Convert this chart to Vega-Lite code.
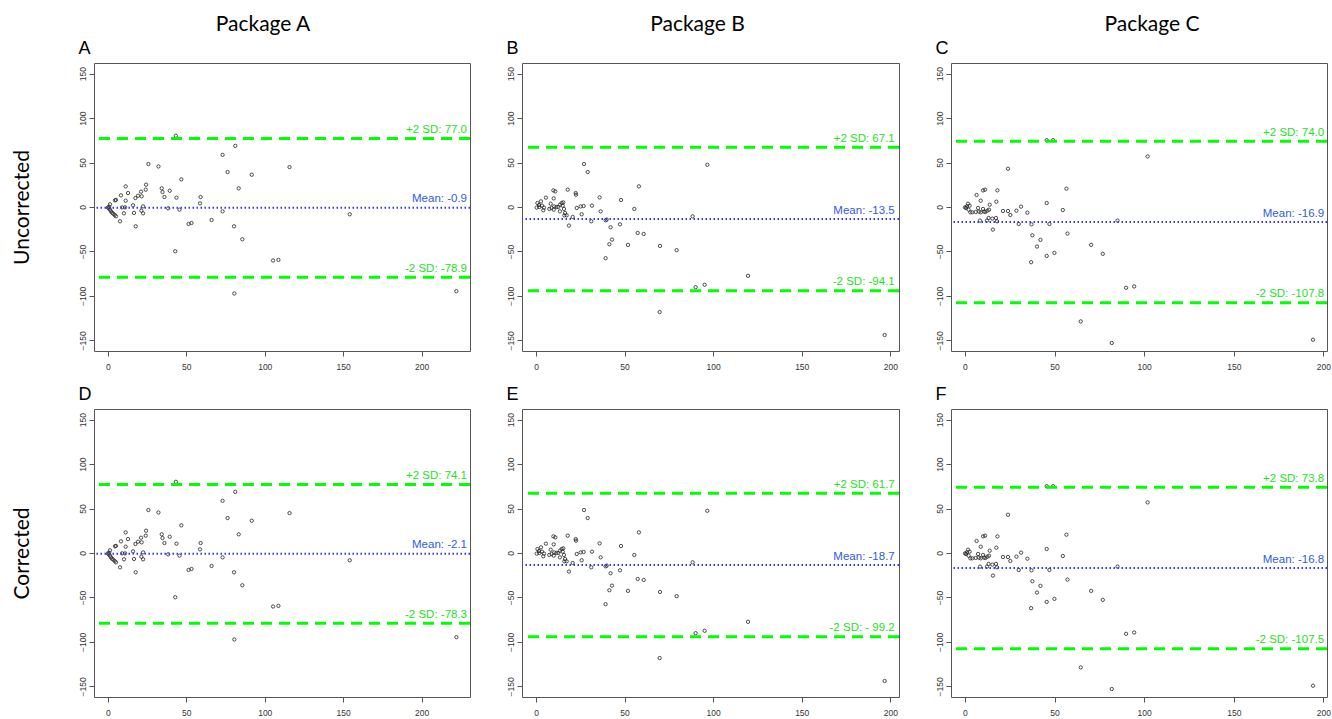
{
"$schema": "https://vega.github.io/schema/vega-lite/v6.json",
"padding": {"left": 10, "top": 13, "right": 0, "bottom": 0},
"background": "white",
"config": {
 "view": {"stroke": "#555", "strokeWidth": 1},
 "axis": {"labelFont": "Liberation Sans", "labelFontSize": 8.5, "labelColor": "#333", "tickColor": "#555", "tickSize": 5, "domain": false, "grid": false, "titleFont": "Lato", "titleFontSize": 21, "titleFontWeight": "normal", "titleColor": "#000"},
 "axisY": {"labelAngle": -90, "labelPadding": 2, "titlePadding": 46},
 "axisBottom": {"labelPadding": 6},
 "axisTop": {"titleX": -16, "titleY": -10, "titleAlign": "left", "titleBaseline": "alphabetic", "titleFont": "Liberation Sans", "titleFontSize": 18, "titleAngle": 0, "labels": false, "ticks": false, "domain": false, "minExtent": 0},
 "title": {"font": "Lato", "fontSize": 21, "fontWeight": "normal", "color": "#000", "anchor": "middle", "offset": 4},
 "concat": {"spacing": 33}
},
"datasets": {
 "ptsA": [
  {"m":43.3,"d":80.1},{"m":81.2,"d":68.8},{"m":73.1,"d":58.7},{"m":25.8,"d":48.3},{"m":32.2,"d":45.6},{"m":115.8,"d":44.9},{"m":76.3,"d":39.3},{"m":91.7,"d":36.3},{"m":46.8,"d":31.1},{"m":83.4,"d":21.0},{"m":11.3,"d":23.2},{"m":24.3,"d":25.1},{"m":24.1,"d":19.5},{"m":34.3,"d":21.0},{"m":34.8,"d":16.8},{"m":36.0,"d":11.2},{"m":39.4,"d":18.3},{"m":43.7,"d":10.5},{"m":59.1,"d":11.2},{"m":58.7,"d":4.1},{"m":12.8,"d":15.7},{"m":8.3,"d":13.1},{"m":4.5,"d":7.5},{"m":5.1,"d":8.0},{"m":11.3,"d":7.1},{"m":17.5,"d":10.1},{"m":19.2,"d":12.7},{"m":21.1,"d":17.2},{"m":21.5,"d":12.0},{"m":22.4,"d":0.7},{"m":16.0,"d":1.9},{"m":9.0,"d":-0.4},{"m":10.9,"d":-0.4},{"m":10.2,"d":-7.1},{"m":16.6,"d":-6.7},{"m":21.3,"d":-4.1},{"m":22.4,"d":-7.1},{"m":7.7,"d":-16.1},{"m":17.7,"d":-21.7},{"m":1.3,"d":3.0},{"m":0.0,"d":-0.4},{"m":0.8,"d":0.3},{"m":0.4,"d":-1.5},{"m":1.3,"d":-3.0},{"m":1.9,"d":-4.9},{"m":2.6,"d":-6.4},{"m":3.4,"d":-7.5},{"m":4.3,"d":-9.0},{"m":5.1,"d":-10.5},{"m":38.4,"d":-1.5},{"m":45.6,"d":-3.0},{"m":42.9,"d":-49.8},{"m":51.4,"d":-19.1},{"m":53.3,"d":-18.0},{"m":66.1,"d":-14.6},{"m":73.1,"d":-4.9},{"m":80.4,"d":-21.7},{"m":85.7,"d":-36.3},{"m":105.3,"d":-60.2},{"m":108.7,"d":-59.5},{"m":80.6,"d":-97.3},{"m":154.2,"d":-8.2},{"m":222.2,"d":-94.7}
 ],
 "ptsB": [
  {"m":0.8,"d":4.5},{"m":1.7,"d":2.2},{"m":2.8,"d":6.4},{"m":3.4,"d":1.5},{"m":1.9,"d":0.0},{"m":0.4,"d":-0.7},{"m":4.1,"d":-3.7},{"m":4.5,"d":-0.7},{"m":7.5,"d":-2.2},{"m":8.8,"d":-1.1},{"m":8.3,"d":3.7},{"m":10.3,"d":0.7},{"m":10.0,"d":-3.0},{"m":11.5,"d":0.0},{"m":12.6,"d":0.0},{"m":13.5,"d":2.6},{"m":14.5,"d":4.5},{"m":15.4,"d":5.2},{"m":15.1,"d":1.5},{"m":15.8,"d":-2.2},{"m":16.4,"d":-6.7},{"m":16.0,"d":-9.4},{"m":17.3,"d":-9.4},{"m":13.5,"d":-4.9},{"m":5.6,"d":10.5},{"m":10.0,"d":9.7},{"m":9.8,"d":18.7},{"m":10.9,"d":17.6},{"m":17.9,"d":19.5},{"m":22.4,"d":15.7},{"m":22.6,"d":13.8},{"m":23.0,"d":-1.1},{"m":25.2,"d":0.7},{"m":26.9,"d":1.1},{"m":25.8,"d":-8.2},{"m":20.7,"d":-11.2},{"m":31.6,"d":1.5},{"m":31.2,"d":-16.1},{"m":36.5,"d":-4.9},{"m":39.3,"d":-15.0},{"m":39.9,"d":-14.2},{"m":42.1,"d":-22.8},{"m":47.4,"d":-19.5},{"m":48.0,"d":7.9},{"m":35.9,"d":10.8},{"m":55.5,"d":-2.2},{"m":57.4,"d":-29.2},{"m":60.8,"d":-30.3},{"m":42.9,"d":-36.7},{"m":41.4,"d":-41.9},{"m":51.9,"d":-42.6},{"m":39.3,"d":-57.6},{"m":70.0,"d":-43.8},{"m":79.4,"d":-48.6},{"m":88.4,"d":-10.5},{"m":18.6,"d":-20.9},{"m":27.1,"d":48.3},{"m":29.2,"d":39.3},{"m":96.7,"d":47.5},{"m":58.1,"d":23.2},{"m":90.1,"d":-90.2},{"m":95.2,"d":-87.5},{"m":119.7,"d":-77.4},{"m":69.8,"d":-118.2},{"m":196.8,"d":-144.0}
 ],
 "ptsC": [
  {"m":45.6,"d":75.2},{"m":49.2,"d":75.2},{"m":101.9,"d":56.9},{"m":24.0,"d":43.0},{"m":56.6,"d":20.6},{"m":18.1,"d":18.7},{"m":10.1,"d":18.7},{"m":11.2,"d":19.5},{"m":6.5,"d":13.5},{"m":8.8,"d":7.1},{"m":17.5,"d":6.0},{"m":45.6,"d":4.5},{"m":54.6,"d":-3.4},{"m":13.8,"d":2.6},{"m":13.4,"d":-3.0},{"m":0.0,"d":-0.4},{"m":0.6,"d":-1.1},{"m":1.1,"d":0.7},{"m":1.7,"d":3.7},{"m":2.6,"d":1.5},{"m":2.0,"d":-3.0},{"m":3.0,"d":-6.0},{"m":4.1,"d":-6.0},{"m":6.0,"d":-5.6},{"m":7.3,"d":-1.1},{"m":7.8,"d":-5.2},{"m":10.1,"d":-2.2},{"m":10.6,"d":-5.2},{"m":11.4,"d":-5.6},{"m":12.5,"d":-4.1},{"m":8.8,"d":-6.0},{"m":8.4,"d":-15.3},{"m":12.3,"d":-15.3},{"m":13.2,"d":-12.3},{"m":15.3,"d":-13.1},{"m":17.3,"d":-12.3},{"m":17.9,"d":-16.1},{"m":15.6,"d":-25.4},{"m":21.2,"d":-4.5},{"m":24.0,"d":-4.5},{"m":25.3,"d":-9.0},{"m":28.7,"d":-4.1},{"m":31.3,"d":0.4},{"m":34.8,"d":-6.4},{"m":30.0,"d":-19.1},{"m":37.1,"d":-19.5},{"m":47.1,"d":-19.1},{"m":37.6,"d":-31.8},{"m":42.1,"d":-37.0},{"m":40.2,"d":-44.5},{"m":49.9,"d":-51.6},{"m":45.6,"d":-55.0},{"m":57.2,"d":-29.9},{"m":70.4,"d":-42.6},{"m":76.9,"d":-52.7},{"m":85.1,"d":-15.3},{"m":36.9,"d":-62.1},{"m":64.6,"d":-128.7},{"m":81.9,"d":-153.0},{"m":89.9,"d":-90.9},{"m":94.4,"d":-89.4},{"m":194.2,"d":-149.3}
 ],
 "linA": [{"v":77.0,"lx":229,"lab":"+2 SD: 77.0","kind":"sd"},{"v":-0.9,"lx":229,"lab":"Mean: -0.9","kind":"mean"},{"v":-78.9,"lx":229,"lab":"-2 SD: -78.9","kind":"sd"}],
 "linB": [{"v":67.1,"lx":202.5,"lab":"+2 SD: 67.1","kind":"sd"},{"v":-13.5,"lx":202.5,"lab":"Mean: -13.5","kind":"mean"},{"v":-94.1,"lx":202.5,"lab":"-2 SD: -94.1","kind":"sd"}],
 "linC": [{"v":74.0,"lx":200.4,"lab":"+2 SD: 74.0","kind":"sd"},{"v":-16.9,"lx":200.4,"lab":"Mean: -16.9","kind":"mean"},{"v":-107.8,"lx":200.4,"lab":"-2 SD: -107.8","kind":"sd"}],
 "linD": [{"v":77.0,"lx":229,"lab":"+2 SD: 74.1","kind":"sd"},{"v":-0.9,"lx":229,"lab":"Mean: -2.1","kind":"mean"},{"v":-78.9,"lx":229,"lab":"-2 SD: -78.3","kind":"sd"}],
 "linE": [{"v":67.1,"lx":202.5,"lab":"+2 SD: 61.7","kind":"sd"},{"v":-13.5,"lx":202.5,"lab":"Mean: -18.7","kind":"mean"},{"v":-94.1,"lx":202.5,"lab":"-2 SD: - 99.2","kind":"sd"}],
 "linF": [{"v":74.0,"lx":200.4,"lab":"+2 SD: 73.8","kind":"sd"},{"v":-16.9,"lx":200.4,"lab":"Mean: -16.8","kind":"mean"},{"v":-107.8,"lx":200.4,"lab":"-2 SD: -107.5","kind":"sd"}]
},
"vconcat": [
 {"hconcat": [
  {"width": 376, "height": 288, "title": {"text": "Package A", "dx": -19},
   "layer": [
    {"data": {"name": "ptsA"}, "mark": {"type": "point", "shape": "circle", "filled": false, "size": 11, "color": "#222", "strokeWidth": 0.8, "opacity": 1},
     "encoding": {"x": {"field": "m", "type": "quantitative", "scale": {"domain": [-8.9, 230.9], "nice": false, "zero": false}, "axis": {"orient": "bottom", "values": [0,50,100,150,200], "title": null}},
      "y": {"field": "d", "type": "quantitative", "scale": {"domain": [-162, 162], "nice": false, "zero": false}, "axis": {"values": [-150,-100,-50,0,50,100,150], "title": "Uncorrected"}}}},
    {"data": {"name": "linA"}, "transform": [{"filter": "datum.kind == 'sd'"}], "mark": {"type": "rule", "color": "#00ff00", "strokeWidth": 3, "strokeDash": [11, 7]}, "encoding": {"y": {"field": "v", "type": "quantitative"}}},
    {"data": {"name": "linA"}, "transform": [{"filter": "datum.kind == 'mean'"}], "mark": {"type": "rule", "color": "#3333ff", "strokeWidth": 2, "strokeDash": [1.5, 2.5]}, "encoding": {"y": {"field": "v", "type": "quantitative"}}},
    {"data": {"name": "linA"}, "mark": {"type": "text", "align": "right", "baseline": "bottom", "dy": -3.5, "fontSize": 11.5, "font": "Liberation Sans"},
     "encoding": {"x": {"field": "lx", "type": "quantitative", "axis": {"orient": "top", "title": "A"}}, "y": {"field": "v", "type": "quantitative"}, "text": {"field": "lab"},
      "color": {"field": "kind", "type": "nominal", "scale": {"domain": ["sd", "mean"], "range": ["#1fe01f", "#2f5be0"]}, "legend": null}}}
   ],
   "resolve": {"axis": {"x": "independent"}}},
  {"width": 377, "height": 288, "title": {"text": "Package B", "dx": -13},
   "layer": [
    {"data": {"name": "ptsB"}, "mark": {"type": "point", "shape": "circle", "filled": false, "size": 11, "color": "#222", "strokeWidth": 0.8, "opacity": 1},
     "encoding": {"x": {"field": "m", "type": "quantitative", "scale": {"domain": [-7.9, 204.9], "nice": false, "zero": false}, "axis": {"orient": "bottom", "values": [0,50,100,150,200], "title": null}},
      "y": {"field": "d", "type": "quantitative", "scale": {"domain": [-162, 162], "nice": false, "zero": false}, "axis": {"values": [-150,-100,-50,0,50,100,150], "title": null}}}},
    {"data": {"name": "linB"}, "transform": [{"filter": "datum.kind == 'sd'"}], "mark": {"type": "rule", "color": "#00ff00", "strokeWidth": 3, "strokeDash": [11, 7]}, "encoding": {"y": {"field": "v", "type": "quantitative"}}},
    {"data": {"name": "linB"}, "transform": [{"filter": "datum.kind == 'mean'"}], "mark": {"type": "rule", "color": "#3333ff", "strokeWidth": 2, "strokeDash": [1.5, 2.5]}, "encoding": {"y": {"field": "v", "type": "quantitative"}}},
    {"data": {"name": "linB"}, "mark": {"type": "text", "align": "right", "baseline": "bottom", "dy": -3.5, "fontSize": 11.5, "font": "Liberation Sans"},
     "encoding": {"x": {"field": "lx", "type": "quantitative", "axis": {"orient": "top", "title": "B"}}, "y": {"field": "v", "type": "quantitative"}, "text": {"field": "lab"},
      "color": {"field": "kind", "type": "nominal", "scale": {"domain": ["sd", "mean"], "range": ["#1fe01f", "#2f5be0"]}, "legend": null}}}
   ],
   "resolve": {"axis": {"x": "independent"}}},
  {"width": 376, "height": 288, "title": {"text": "Package C", "dx": 13},
   "layer": [
    {"data": {"name": "ptsC"}, "mark": {"type": "point", "shape": "circle", "filled": false, "size": 11, "color": "#222", "strokeWidth": 0.8, "opacity": 1},
     "encoding": {"x": {"field": "m", "type": "quantitative", "scale": {"domain": [-7.8, 202.0], "nice": false, "zero": false}, "axis": {"orient": "bottom", "values": [0,50,100,150,200], "title": null}},
      "y": {"field": "d", "type": "quantitative", "scale": {"domain": [-162, 162], "nice": false, "zero": false}, "axis": {"values": [-150,-100,-50,0,50,100,150], "title": null}}}},
    {"data": {"name": "linC"}, "transform": [{"filter": "datum.kind == 'sd'"}], "mark": {"type": "rule", "color": "#00ff00", "strokeWidth": 3, "strokeDash": [11, 7]}, "encoding": {"y": {"field": "v", "type": "quantitative"}}},
    {"data": {"name": "linC"}, "transform": [{"filter": "datum.kind == 'mean'"}], "mark": {"type": "rule", "color": "#3333ff", "strokeWidth": 2, "strokeDash": [1.5, 2.5]}, "encoding": {"y": {"field": "v", "type": "quantitative"}}},
    {"data": {"name": "linC"}, "mark": {"type": "text", "align": "right", "baseline": "bottom", "dy": -3.5, "fontSize": 11.5, "font": "Liberation Sans"},
     "encoding": {"x": {"field": "lx", "type": "quantitative", "axis": {"orient": "top", "title": "C"}}, "y": {"field": "v", "type": "quantitative"}, "text": {"field": "lab"},
      "color": {"field": "kind", "type": "nominal", "scale": {"domain": ["sd", "mean"], "range": ["#1fe01f", "#2f5be0"]}, "legend": null}}}
   ],
   "resolve": {"axis": {"x": "independent"}}}
 ]},
 {"hconcat": [
  {"width": 376, "height": 288,
   "layer": [
    {"data": {"name": "ptsA"}, "mark": {"type": "point", "shape": "circle", "filled": false, "size": 11, "color": "#222", "strokeWidth": 0.8, "opacity": 1},
     "encoding": {"x": {"field": "m", "type": "quantitative", "scale": {"domain": [-8.9, 230.9], "nice": false, "zero": false}, "axis": {"orient": "bottom", "values": [0,50,100,150,200], "title": null}},
      "y": {"field": "d", "type": "quantitative", "scale": {"domain": [-162, 162], "nice": false, "zero": false}, "axis": {"values": [-150,-100,-50,0,50,100,150], "title": "Corrected"}}}},
    {"data": {"name": "linD"}, "transform": [{"filter": "datum.kind == 'sd'"}], "mark": {"type": "rule", "color": "#00ff00", "strokeWidth": 3, "strokeDash": [11, 7]}, "encoding": {"y": {"field": "v", "type": "quantitative"}}},
    {"data": {"name": "linD"}, "transform": [{"filter": "datum.kind == 'mean'"}], "mark": {"type": "rule", "color": "#3333ff", "strokeWidth": 2, "strokeDash": [1.5, 2.5]}, "encoding": {"y": {"field": "v", "type": "quantitative"}}},
    {"data": {"name": "linD"}, "mark": {"type": "text", "align": "right", "baseline": "bottom", "dy": -3.5, "fontSize": 11.5, "font": "Liberation Sans"},
     "encoding": {"x": {"field": "lx", "type": "quantitative", "axis": {"orient": "top", "title": "D"}}, "y": {"field": "v", "type": "quantitative"}, "text": {"field": "lab"},
      "color": {"field": "kind", "type": "nominal", "scale": {"domain": ["sd", "mean"], "range": ["#1fe01f", "#2f5be0"]}, "legend": null}}}
   ],
   "resolve": {"axis": {"x": "independent"}}},
  {"width": 377, "height": 288,
   "layer": [
    {"data": {"name": "ptsB"}, "mark": {"type": "point", "shape": "circle", "filled": false, "size": 11, "color": "#222", "strokeWidth": 0.8, "opacity": 1},
     "encoding": {"x": {"field": "m", "type": "quantitative", "scale": {"domain": [-7.9, 204.9], "nice": false, "zero": false}, "axis": {"orient": "bottom", "values": [0,50,100,150,200], "title": null}},
      "y": {"field": "d", "type": "quantitative", "scale": {"domain": [-162, 162], "nice": false, "zero": false}, "axis": {"values": [-150,-100,-50,0,50,100,150], "title": null}}}},
    {"data": {"name": "linE"}, "transform": [{"filter": "datum.kind == 'sd'"}], "mark": {"type": "rule", "color": "#00ff00", "strokeWidth": 3, "strokeDash": [11, 7]}, "encoding": {"y": {"field": "v", "type": "quantitative"}}},
    {"data": {"name": "linE"}, "transform": [{"filter": "datum.kind == 'mean'"}], "mark": {"type": "rule", "color": "#3333ff", "strokeWidth": 2, "strokeDash": [1.5, 2.5]}, "encoding": {"y": {"field": "v", "type": "quantitative"}}},
    {"data": {"name": "linE"}, "mark": {"type": "text", "align": "right", "baseline": "bottom", "dy": -3.5, "fontSize": 11.5, "font": "Liberation Sans"},
     "encoding": {"x": {"field": "lx", "type": "quantitative", "axis": {"orient": "top", "title": "E"}}, "y": {"field": "v", "type": "quantitative"}, "text": {"field": "lab"},
      "color": {"field": "kind", "type": "nominal", "scale": {"domain": ["sd", "mean"], "range": ["#1fe01f", "#2f5be0"]}, "legend": null}}}
   ],
   "resolve": {"axis": {"x": "independent"}}},
  {"width": 376, "height": 288,
   "layer": [
    {"data": {"name": "ptsC"}, "mark": {"type": "point", "shape": "circle", "filled": false, "size": 11, "color": "#222", "strokeWidth": 0.8, "opacity": 1},
     "encoding": {"x": {"field": "m", "type": "quantitative", "scale": {"domain": [-7.8, 202.0], "nice": false, "zero": false}, "axis": {"orient": "bottom", "values": [0,50,100,150,200], "title": null}},
      "y": {"field": "d", "type": "quantitative", "scale": {"domain": [-162, 162], "nice": false, "zero": false}, "axis": {"values": [-150,-100,-50,0,50,100,150], "title": null}}}},
    {"data": {"name": "linF"}, "transform": [{"filter": "datum.kind == 'sd'"}], "mark": {"type": "rule", "color": "#00ff00", "strokeWidth": 3, "strokeDash": [11, 7]}, "encoding": {"y": {"field": "v", "type": "quantitative"}}},
    {"data": {"name": "linF"}, "transform": [{"filter": "datum.kind == 'mean'"}], "mark": {"type": "rule", "color": "#3333ff", "strokeWidth": 2, "strokeDash": [1.5, 2.5]}, "encoding": {"y": {"field": "v", "type": "quantitative"}}},
    {"data": {"name": "linF"}, "mark": {"type": "text", "align": "right", "baseline": "bottom", "dy": -3.5, "fontSize": 11.5, "font": "Liberation Sans"},
     "encoding": {"x": {"field": "lx", "type": "quantitative", "axis": {"orient": "top", "title": "F"}}, "y": {"field": "v", "type": "quantitative"}, "text": {"field": "lab"},
      "color": {"field": "kind", "type": "nominal", "scale": {"domain": ["sd", "mean"], "range": ["#1fe01f", "#2f5be0"]}, "legend": null}}}
   ],
   "resolve": {"axis": {"x": "independent"}}}
 ]}
],
"spacing": 13
}
